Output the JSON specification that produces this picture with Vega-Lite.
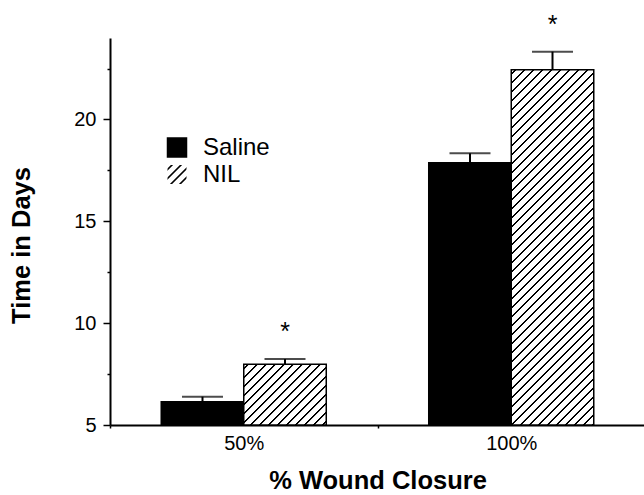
{
  "$schema": "https://vega.github.io/schema/vega-lite/v6.json",
  "autosize": "none",
  "padding": {"left": 110, "top": 38, "right": 0, "bottom": 70},
  "width": 535,
  "height": 387,
  "data": {
    "values": [
      {"closure": "50%", "treatment": "Saline", "days": 6.14, "upper": 6.39, "sig": ""},
      {"closure": "50%", "treatment": "NIL", "days": 7.98, "upper": 8.24, "sig": "*"},
      {"closure": "100%", "treatment": "Saline", "days": 17.88, "upper": 18.34, "sig": ""},
      {"closure": "100%", "treatment": "NIL", "days": 22.44, "upper": 23.33, "sig": "*"}
    ]
  },
  "encoding": {
    "x": {
      "field": "closure", "type": "nominal", "sort": ["50%", "100%"],
      "scale": {"paddingInner": 0, "paddingOuter": 0},
      "axis": {
        "title": "% Wound Closure", "labelAngle": 0, "tickBand": "extent", "tickSize": 3,
        "labelPadding": 5, "titlePadding": 15
      }
    },
    "xOffset": {
      "field": "treatment", "type": "nominal",
      "scale": {"domain": ["Saline", "NIL"], "paddingInner": 0, "paddingOuter": 0.621}
    }
  },
  "layer": [
    {
      "transform": [{"filter": "datum.treatment === 'NIL'"}],
      "mark": {
        "type": "point", "filled": true, "size": 0, "opacity": 1, "stroke": "black", "strokeWidth": 1.5,
        "fill": {"gradient": "linear", "x1": 0, "y1": 0, "x2": 1.1842, "y2": 1.1842, "stops": [
          {"offset": 0.0667, "color": "#fff"}, {"offset": 0.0844, "color": "#000"}, {"offset": 0.1156, "color": "#000"}, {"offset": 0.1333, "color": "#fff"},
          {"offset": 0.2667, "color": "#fff"}, {"offset": 0.2844, "color": "#000"}, {"offset": 0.3156, "color": "#000"}, {"offset": 0.3333, "color": "#fff"},
          {"offset": 0.4667, "color": "#fff"}, {"offset": 0.4844, "color": "#000"}, {"offset": 0.5156, "color": "#000"}, {"offset": 0.5333, "color": "#fff"},
          {"offset": 0.6667, "color": "#fff"}, {"offset": 0.6844, "color": "#000"}, {"offset": 0.7156, "color": "#000"}, {"offset": 0.7333, "color": "#fff"}
        ]}
      },
      "encoding": {
        "y": {
          "field": "days", "type": "quantitative",
          "scale": {"domain": [5, 24], "nice": false, "zero": false},
          "axis": {
            "title": "Time in Days",
            "values": [5, 7.5, 10, 12.5, 15, 17.5, 20, 22.5],
            "labelExpr": "datum.value % 5 === 0 ? datum.label : ''",
            "tickSize": {"condition": {"test": "datum.value % 5 !== 0", "value": 3}, "value": 7},
            "labelPadding": 7, "titleX": -76, "titleY": 207, "grid": false
          }
        },
        "shape": {
          "field": "treatment", "type": "nominal",
          "scale": {"domain": ["NIL"], "range": ["square"]},
          "legend": {
            "title": null, "orient": "none", "legendX": 55, "legendY": 124.5,
            "labelFontSize": 24, "labelColor": "black", "labelOffset": 14,
            "symbolSize": 361, "symbolStrokeColor": "black", "symbolStrokeWidth": 1.5, "symbolOpacity": 1
          }
        }
      }
    },
    {
      "transform": [{"filter": "datum.treatment === 'Saline'"}],
      "mark": {"type": "bar", "stroke": "black", "strokeWidth": 1.5, "opacity": 1},
      "encoding": {
        "y": {"field": "days", "type": "quantitative"},
        "y2": {"datum": 5},
        "fill": {
          "field": "treatment", "type": "nominal",
          "scale": {"domain": ["Saline"], "range": ["#000000"]},
          "legend": {
            "title": null, "orient": "none", "legendX": 55, "legendY": 97.5,
            "labelFontSize": 24, "labelColor": "black", "labelOffset": 14,
            "symbolType": "square", "symbolSize": 361, "symbolStrokeColor": "black",
            "symbolStrokeWidth": 1.5, "symbolOpacity": 1
          }
        }
      }
    },
    {
      "transform": [{"filter": "datum.treatment === 'NIL'"}],
      "mark": {"type": "bar", "stroke": "black", "strokeWidth": 1.5, "opacity": 1},
      "encoding": {
        "y": {"field": "days", "type": "quantitative"},
        "y2": {"datum": 5},
        "fill": {
          "condition": {
            "test": "datum.closure === '50%'",
            "value": {"gradient": "linear", "x1": 0, "y1": 0, "x2": 1.1797, "y2": 0.868, "stops": [
              {"offset": 0.02, "color": "#fff"}, {"offset": 0.0253, "color": "#000"}, {"offset": 0.0347, "color": "#000"}, {"offset": 0.04, "color": "#fff"},
              {"offset": 0.08, "color": "#fff"}, {"offset": 0.0853, "color": "#000"}, {"offset": 0.0947, "color": "#000"}, {"offset": 0.10, "color": "#fff"},
              {"offset": 0.14, "color": "#fff"}, {"offset": 0.1453, "color": "#000"}, {"offset": 0.1547, "color": "#000"}, {"offset": 0.16, "color": "#fff"},
              {"offset": 0.20, "color": "#fff"}, {"offset": 0.2053, "color": "#000"}, {"offset": 0.2147, "color": "#000"}, {"offset": 0.22, "color": "#fff"},
              {"offset": 0.26, "color": "#fff"}, {"offset": 0.2653, "color": "#000"}, {"offset": 0.2747, "color": "#000"}, {"offset": 0.28, "color": "#fff"},
              {"offset": 0.32, "color": "#fff"}, {"offset": 0.3253, "color": "#000"}, {"offset": 0.3347, "color": "#000"}, {"offset": 0.34, "color": "#fff"},
              {"offset": 0.38, "color": "#fff"}, {"offset": 0.3853, "color": "#000"}, {"offset": 0.3947, "color": "#000"}, {"offset": 0.40, "color": "#fff"},
              {"offset": 0.44, "color": "#fff"}, {"offset": 0.4453, "color": "#000"}, {"offset": 0.4547, "color": "#000"}, {"offset": 0.46, "color": "#fff"},
              {"offset": 0.50, "color": "#fff"}, {"offset": 0.5053, "color": "#000"}, {"offset": 0.5147, "color": "#000"}, {"offset": 0.52, "color": "#fff"},
              {"offset": 0.56, "color": "#fff"}, {"offset": 0.5653, "color": "#000"}, {"offset": 0.5747, "color": "#000"}, {"offset": 0.58, "color": "#fff"},
              {"offset": 0.62, "color": "#fff"}, {"offset": 0.6253, "color": "#000"}, {"offset": 0.6347, "color": "#000"}, {"offset": 0.64, "color": "#fff"},
              {"offset": 0.68, "color": "#fff"}, {"offset": 0.6853, "color": "#000"}, {"offset": 0.6947, "color": "#000"}, {"offset": 0.70, "color": "#fff"},
              {"offset": 0.74, "color": "#fff"}, {"offset": 0.7453, "color": "#000"}, {"offset": 0.7547, "color": "#000"}, {"offset": 0.76, "color": "#fff"},
              {"offset": 0.80, "color": "#fff"}, {"offset": 0.8053, "color": "#000"}, {"offset": 0.8147, "color": "#000"}, {"offset": 0.82, "color": "#fff"},
              {"offset": 0.86, "color": "#fff"}, {"offset": 0.8653, "color": "#000"}, {"offset": 0.8747, "color": "#000"}, {"offset": 0.88, "color": "#fff"},
              {"offset": 0.92, "color": "#fff"}, {"offset": 0.9253, "color": "#000"}, {"offset": 0.9347, "color": "#000"}, {"offset": 0.94, "color": "#fff"}
            ]}
          },
          "value": {"gradient": "linear", "x1": 0, "y1": 0, "x2": 0.279, "y2": 1.2017, "stops": [
            {"offset": 0.0067, "color": "#fff"}, {"offset": 0.0085, "color": "#000"}, {"offset": 0.0115, "color": "#000"}, {"offset": 0.0133, "color": "#fff"},
            {"offset": 0.0267, "color": "#fff"}, {"offset": 0.0285, "color": "#000"}, {"offset": 0.0315, "color": "#000"}, {"offset": 0.0333, "color": "#fff"},
            {"offset": 0.0467, "color": "#fff"}, {"offset": 0.0485, "color": "#000"}, {"offset": 0.0515, "color": "#000"}, {"offset": 0.0533, "color": "#fff"},
            {"offset": 0.0667, "color": "#fff"}, {"offset": 0.0685, "color": "#000"}, {"offset": 0.0715, "color": "#000"}, {"offset": 0.0733, "color": "#fff"},
            {"offset": 0.0867, "color": "#fff"}, {"offset": 0.0885, "color": "#000"}, {"offset": 0.0915, "color": "#000"}, {"offset": 0.0933, "color": "#fff"},
            {"offset": 0.1067, "color": "#fff"}, {"offset": 0.1085, "color": "#000"}, {"offset": 0.1115, "color": "#000"}, {"offset": 0.1133, "color": "#fff"},
            {"offset": 0.1267, "color": "#fff"}, {"offset": 0.1285, "color": "#000"}, {"offset": 0.1315, "color": "#000"}, {"offset": 0.1333, "color": "#fff"},
            {"offset": 0.1467, "color": "#fff"}, {"offset": 0.1485, "color": "#000"}, {"offset": 0.1515, "color": "#000"}, {"offset": 0.1533, "color": "#fff"},
            {"offset": 0.1667, "color": "#fff"}, {"offset": 0.1685, "color": "#000"}, {"offset": 0.1715, "color": "#000"}, {"offset": 0.1733, "color": "#fff"},
            {"offset": 0.1867, "color": "#fff"}, {"offset": 0.1885, "color": "#000"}, {"offset": 0.1915, "color": "#000"}, {"offset": 0.1933, "color": "#fff"},
            {"offset": 0.2067, "color": "#fff"}, {"offset": 0.2085, "color": "#000"}, {"offset": 0.2115, "color": "#000"}, {"offset": 0.2133, "color": "#fff"},
            {"offset": 0.2267, "color": "#fff"}, {"offset": 0.2285, "color": "#000"}, {"offset": 0.2315, "color": "#000"}, {"offset": 0.2333, "color": "#fff"},
            {"offset": 0.2467, "color": "#fff"}, {"offset": 0.2485, "color": "#000"}, {"offset": 0.2515, "color": "#000"}, {"offset": 0.2533, "color": "#fff"},
            {"offset": 0.2667, "color": "#fff"}, {"offset": 0.2685, "color": "#000"}, {"offset": 0.2715, "color": "#000"}, {"offset": 0.2733, "color": "#fff"},
            {"offset": 0.2867, "color": "#fff"}, {"offset": 0.2885, "color": "#000"}, {"offset": 0.2915, "color": "#000"}, {"offset": 0.2933, "color": "#fff"},
            {"offset": 0.3067, "color": "#fff"}, {"offset": 0.3085, "color": "#000"}, {"offset": 0.3115, "color": "#000"}, {"offset": 0.3133, "color": "#fff"},
            {"offset": 0.3267, "color": "#fff"}, {"offset": 0.3285, "color": "#000"}, {"offset": 0.3315, "color": "#000"}, {"offset": 0.3333, "color": "#fff"},
            {"offset": 0.3467, "color": "#fff"}, {"offset": 0.3485, "color": "#000"}, {"offset": 0.3515, "color": "#000"}, {"offset": 0.3533, "color": "#fff"},
            {"offset": 0.3667, "color": "#fff"}, {"offset": 0.3685, "color": "#000"}, {"offset": 0.3715, "color": "#000"}, {"offset": 0.3733, "color": "#fff"},
            {"offset": 0.3867, "color": "#fff"}, {"offset": 0.3885, "color": "#000"}, {"offset": 0.3915, "color": "#000"}, {"offset": 0.3933, "color": "#fff"},
            {"offset": 0.4067, "color": "#fff"}, {"offset": 0.4085, "color": "#000"}, {"offset": 0.4115, "color": "#000"}, {"offset": 0.4133, "color": "#fff"},
            {"offset": 0.4267, "color": "#fff"}, {"offset": 0.4285, "color": "#000"}, {"offset": 0.4315, "color": "#000"}, {"offset": 0.4333, "color": "#fff"},
            {"offset": 0.4467, "color": "#fff"}, {"offset": 0.4485, "color": "#000"}, {"offset": 0.4515, "color": "#000"}, {"offset": 0.4533, "color": "#fff"},
            {"offset": 0.4667, "color": "#fff"}, {"offset": 0.4685, "color": "#000"}, {"offset": 0.4715, "color": "#000"}, {"offset": 0.4733, "color": "#fff"},
            {"offset": 0.4867, "color": "#fff"}, {"offset": 0.4885, "color": "#000"}, {"offset": 0.4915, "color": "#000"}, {"offset": 0.4933, "color": "#fff"},
            {"offset": 0.5067, "color": "#fff"}, {"offset": 0.5085, "color": "#000"}, {"offset": 0.5115, "color": "#000"}, {"offset": 0.5133, "color": "#fff"},
            {"offset": 0.5267, "color": "#fff"}, {"offset": 0.5285, "color": "#000"}, {"offset": 0.5315, "color": "#000"}, {"offset": 0.5333, "color": "#fff"},
            {"offset": 0.5467, "color": "#fff"}, {"offset": 0.5485, "color": "#000"}, {"offset": 0.5515, "color": "#000"}, {"offset": 0.5533, "color": "#fff"},
            {"offset": 0.5667, "color": "#fff"}, {"offset": 0.5685, "color": "#000"}, {"offset": 0.5715, "color": "#000"}, {"offset": 0.5733, "color": "#fff"},
            {"offset": 0.5867, "color": "#fff"}, {"offset": 0.5885, "color": "#000"}, {"offset": 0.5915, "color": "#000"}, {"offset": 0.5933, "color": "#fff"},
            {"offset": 0.6067, "color": "#fff"}, {"offset": 0.6085, "color": "#000"}, {"offset": 0.6115, "color": "#000"}, {"offset": 0.6133, "color": "#fff"},
            {"offset": 0.6267, "color": "#fff"}, {"offset": 0.6285, "color": "#000"}, {"offset": 0.6315, "color": "#000"}, {"offset": 0.6333, "color": "#fff"},
            {"offset": 0.6467, "color": "#fff"}, {"offset": 0.6485, "color": "#000"}, {"offset": 0.6515, "color": "#000"}, {"offset": 0.6533, "color": "#fff"},
            {"offset": 0.6667, "color": "#fff"}, {"offset": 0.6685, "color": "#000"}, {"offset": 0.6715, "color": "#000"}, {"offset": 0.6733, "color": "#fff"},
            {"offset": 0.6867, "color": "#fff"}, {"offset": 0.6885, "color": "#000"}, {"offset": 0.6915, "color": "#000"}, {"offset": 0.6933, "color": "#fff"},
            {"offset": 0.7067, "color": "#fff"}, {"offset": 0.7085, "color": "#000"}, {"offset": 0.7115, "color": "#000"}, {"offset": 0.7133, "color": "#fff"},
            {"offset": 0.7267, "color": "#fff"}, {"offset": 0.7285, "color": "#000"}, {"offset": 0.7315, "color": "#000"}, {"offset": 0.7333, "color": "#fff"},
            {"offset": 0.7467, "color": "#fff"}, {"offset": 0.7485, "color": "#000"}, {"offset": 0.7515, "color": "#000"}, {"offset": 0.7533, "color": "#fff"},
            {"offset": 0.7667, "color": "#fff"}, {"offset": 0.7685, "color": "#000"}, {"offset": 0.7715, "color": "#000"}, {"offset": 0.7733, "color": "#fff"},
            {"offset": 0.7867, "color": "#fff"}, {"offset": 0.7885, "color": "#000"}, {"offset": 0.7915, "color": "#000"}, {"offset": 0.7933, "color": "#fff"},
            {"offset": 0.8067, "color": "#fff"}, {"offset": 0.8085, "color": "#000"}, {"offset": 0.8115, "color": "#000"}, {"offset": 0.8133, "color": "#fff"},
            {"offset": 0.8267, "color": "#fff"}, {"offset": 0.8285, "color": "#000"}, {"offset": 0.8315, "color": "#000"}, {"offset": 0.8333, "color": "#fff"},
            {"offset": 0.8467, "color": "#fff"}, {"offset": 0.8485, "color": "#000"}, {"offset": 0.8515, "color": "#000"}, {"offset": 0.8533, "color": "#fff"},
            {"offset": 0.8667, "color": "#fff"}, {"offset": 0.8685, "color": "#000"}, {"offset": 0.8715, "color": "#000"}, {"offset": 0.8733, "color": "#fff"},
            {"offset": 0.8867, "color": "#fff"}, {"offset": 0.8885, "color": "#000"}, {"offset": 0.8915, "color": "#000"}, {"offset": 0.8933, "color": "#fff"},
            {"offset": 0.9067, "color": "#fff"}, {"offset": 0.9085, "color": "#000"}, {"offset": 0.9115, "color": "#000"}, {"offset": 0.9133, "color": "#fff"},
            {"offset": 0.9267, "color": "#fff"}, {"offset": 0.9285, "color": "#000"}, {"offset": 0.9315, "color": "#000"}, {"offset": 0.9333, "color": "#fff"},
            {"offset": 0.9467, "color": "#fff"}, {"offset": 0.9485, "color": "#000"}, {"offset": 0.9515, "color": "#000"}, {"offset": 0.9533, "color": "#fff"},
            {"offset": 0.9667, "color": "#fff"}, {"offset": 0.9685, "color": "#000"}, {"offset": 0.9715, "color": "#000"}, {"offset": 0.9733, "color": "#fff"}
          ]}
        }
      }
    },
    {
      "mark": {"type": "rule", "color": "black", "strokeWidth": 2},
      "encoding": {
        "y": {"field": "days", "type": "quantitative"},
        "y2": {"field": "upper"}
      }
    },
    {
      "mark": {"type": "tick", "color": "black", "size": 41, "thickness": 2, "orient": "horizontal"},
      "encoding": {
        "y": {"field": "upper", "type": "quantitative"}
      }
    },
    {
      "mark": {"type": "text", "color": "black", "fontSize": 25, "dy": -19, "baseline": "alphabetic"},
      "encoding": {
        "y": {"field": "upper", "type": "quantitative"},
        "text": {"field": "sig"}
      }
    }
  ],
  "config": {
    "view": {"stroke": null},
    "font": "Liberation Sans",
    "axis": {
      "domainColor": "black", "domainWidth": 2, "tickColor": "black", "tickWidth": 1.5,
      "labelColor": "black", "labelFontSize": 20, "labelFont": "Liberation Sans",
      "titleColor": "black", "titleFontSize": 25.5, "titleFontWeight": "bold", "titleFont": "Liberation Sans"
    },
    "legend": {"labelFont": "Liberation Sans"}
  }
}
